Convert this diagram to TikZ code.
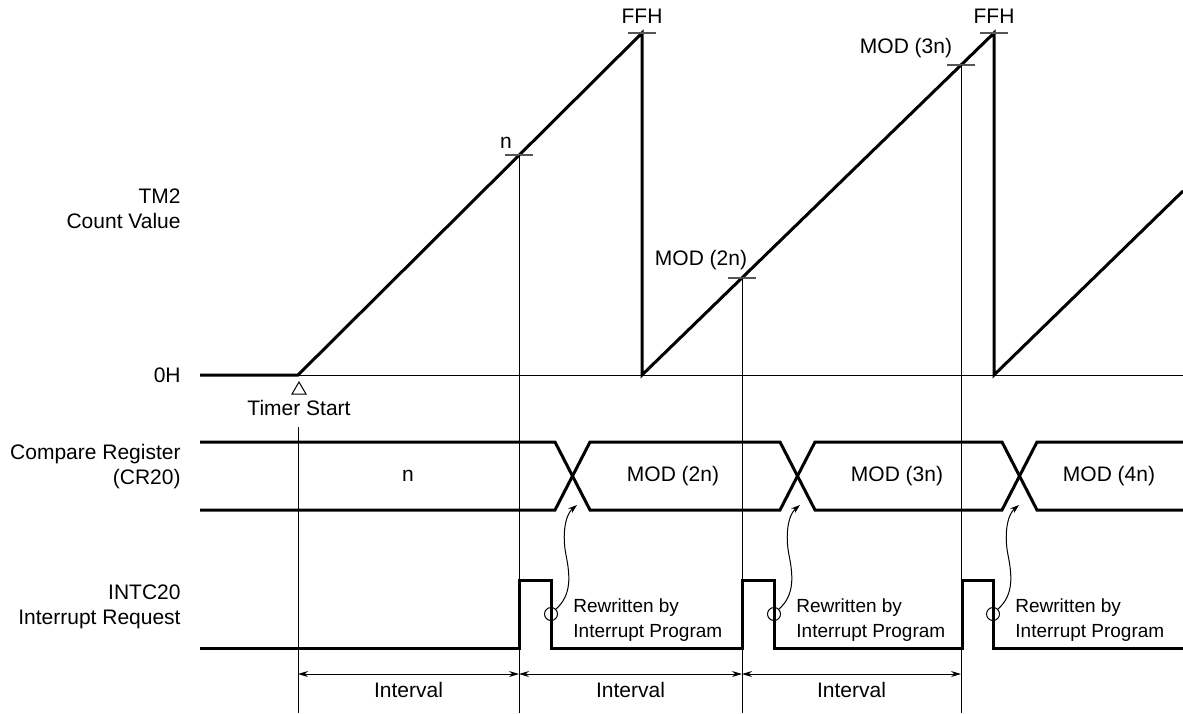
\documentclass[tikz,border=0pt]{standalone}
\usepackage{fontspec}
\setmainfont{Liberation Sans}
\usetikzlibrary{arrows.meta,calc}
\definecolor{ink}{HTML}{000000}
\definecolor{tickgray}{HTML}{555555}
\tikzset{
  sig/.style={draw=ink, line width=1.5pt, line join=miter},
  guide/.style={draw=ink, line width=0.5pt},
  marktick/.style={draw=tickgray, line width=0.7pt},
  lbl/.style={font=\fontsize{10.5}{12.5}\selectfont, inner sep=0pt, text=ink},
  side/.style={lbl, align=right, anchor=east},
  note/.style={lbl, font=\fontsize{9.5}{12.5}\selectfont, align=left, anchor=west},
  ring/.style={circle, draw=ink, line width=0.5pt, minimum size=6.5pt, inner sep=0pt},
  ptr/.style={-{Stealth[length=4.5pt,width=3pt]}, draw=ink, line width=0.5pt},
  span/.style={{Stealth[length=5pt,width=3pt]}-{Stealth[length=5pt,width=3pt]}, draw=ink, line width=0.5pt}
}

\begin{document}
\begin{tikzpicture}[x=0.5pt, y=-0.5pt]
  \useasboundingbox (0,0) rectangle (1183,713);

  % time marks
  \coordinate (t0) at (298,427);
  \coordinate (nPt) at (519,155);
  \coordinate (m2Pt) at (742,278);
  \coordinate (m3Pt) at (961,65);
  \coordinate (ff1) at (642,33);
  \coordinate (ff2) at (994,33);

  % side labels
  \node[side] (lcount) at (181,209) {TM2\\Count Value};
  \node[side] (lzero) at (181,375) {0H};
  \node[side] (lcr) at (181,467) {Compare Register\\(CR20)};
  \node[side] (lint) at (181,607) {INTC20\\Interrupt Request};

  % count value
  \draw[guide] (200,375) -- (1183,375);
  \draw[sig] (200,375) -- (298,375) -- (ff1) -- (642,375) -- (ff2) -- (994,375) -- (1183,191);
  \foreach \pt in {ff1,ff2,nPt,m2Pt,m3Pt} {
    \draw[marktick] ($(\pt)+(-14,0)$) -- ($(\pt)+(14,0)$);
  }
  \node[lbl] (lff1) at (642,16) {FFH};
  \node[lbl] (lff2) at (994,16) {FFH};
  \node[lbl] (ln) at (506,143) {n};
  \node[lbl] (lm2) at (701,260) {MOD (2n)};
  \node[lbl] (lm3) at (906,48) {MOD (3n)};

  % timer start
  \draw[guide] (299,382) -- (292,394) -- (306,394) -- cycle;
  \node[lbl] (lstart) at (299,408) {Timer Start};

  % guide lines
  \draw[guide] (t0) -- (298,713);
  \draw[guide] (nPt) -- (519,713);
  \draw[guide] (m2Pt) -- (742,713);
  \draw[guide] (m3Pt) -- (961,713);

  % compare register bus
  \draw[sig] (200,442) -- (555,442) -- (590,510) -- (780,510) -- (815,442) -- (1002,442) -- (1037,510) -- (1183,510);
  \draw[sig] (200,510) -- (555,510) -- (590,442) -- (780,442) -- (815,510) -- (1002,510) -- (1037,442) -- (1183,442);
  \node[lbl] (bn) at (408,476) {n};
  \node[lbl] (b2) at (673,476) {MOD (2n)};
  \node[lbl] (b3) at (897,476) {MOD (3n)};
  \node[lbl] (b4) at (1109,476) {MOD (4n)};

  % interrupt request
  \draw[sig] (200,648) -- (519,648) -- (519,580) -- (551,580) -- (551,648)
    -- (742,648) -- (742,580) -- (774,580) -- (774,648)
    -- (962,648) -- (962,580) -- (993,580) -- (993,648) -- (1183,648);

  % rewritten notes
  \foreach \fx [count=\i] in {551,774,993} {
    \node[ring] (c\i) at (\fx,614) {};
    \draw[ptr] (c\i.45) .. controls (\fx+21,595) and (\fx+19,575) .. (\fx+15,555)
      .. controls (\fx+11,535) and (\fx+14,515) .. (\fx+26,505);
    \node[note] (r\i) at (\fx+22,620) {Rewritten by\\Interrupt Program};
  }

  % intervals
  \draw[span] (298,674) -- node[lbl, below=4pt] (iv1) {Interval} (519,674);
  \draw[span] (519,674) -- node[lbl, below=4pt] (iv2) {Interval} (742,674);
  \draw[span] (742,674) -- node[lbl, below=4pt] (iv3) {Interval} (961,674);
\end{tikzpicture}
\end{document}
